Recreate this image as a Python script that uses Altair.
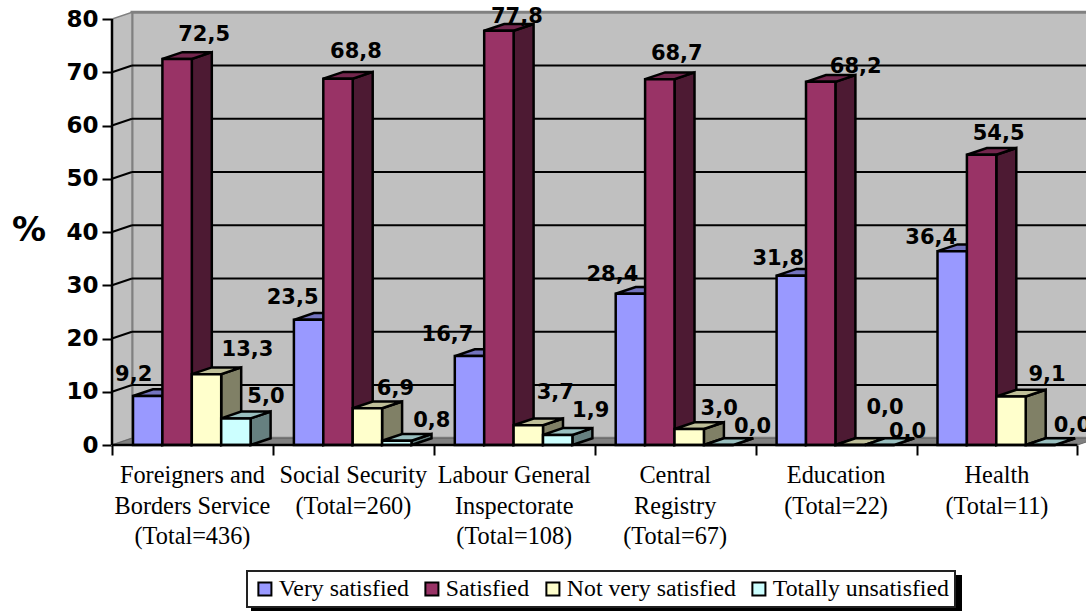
import altair as alt
import pandas as pd

# Survey results by public service, in percent
CATEGORIES = [
    "Foreigners and\nBorders Service\n(Total=436)",
    "Social Security\n(Total=260)",
    "Labour General\nInspectorate\n(Total=108)",
    "Central\nRegistry\n(Total=67)",
    "Education\n(Total=22)",
    "Health\n(Total=11)",
]
SERIES = ["Very satisfied", "Satisfied", "Not very satisfied", "Totally unsatisfied"]
VERY_SATISFIED = [9.2, 23.5, 16.7, 28.4, 31.8, 36.4]
SATISFIED = [72.5, 68.8, 77.8, 68.7, 68.2, 54.5]
NOT_VERY_SATISFIED = [13.3, 6.9, 3.7, 3.0, 0.0, 9.1]
TOTALLY_UNSATISFIED = [5.0, 0.8, 1.9, 0.0, 0.0, 0.0]
VALUES = [VERY_SATISFIED, SATISFIED, NOT_VERY_SATISFIED, TOTALLY_UNSATISFIED]

FRONT = ["#9999FF", "#993366", "#FFFFCC", "#CCFFFF"]
TOP = ["#7373BF", "#73264D", "#BFBF99", "#99BFBF"]
SIDE = ["#4D4D80", "#4D1A33", "#808066", "#668080"]

# Hand placement of the value labels relative to each bar's top centre
LABEL_DX = [
    [-14, -16, -22, -18, -13, -21],
    [27, 18, 18, 17, 35, 17],
    [41, 28, 27, 30, 35, 36],
    [30, 35, 33, 34, 28, 32],
]
LABEL_DY = [
    [-15, -16, -15, -13, -11, -7],
    [-18, -21, -8, -19, -9, -15],
    [-18, -13, -26, -14, -31, -16],
    [-15, -14, -18, -12, -7, -13],
]

# Layout of the oblique projection, in x-scale units and percentage points
CAT_W = 160.9
BAR_W = 29.4
BAR_START = 21
DEPTH_X = 20
DEPTH_Y = 1.27
PX_PER_UNIT = 5.325
N_CAT = len(CATEGORIES)
FLOOR_END = CAT_W * N_CAT
TICKS = list(range(0, 90, 10))
CAT_TICKS = [CAT_W * i for i in range(N_CAT + 1)]

X_SCALE = alt.Scale(domain=[0, 974], nice=False, zero=False)
Y_SCALE = alt.Scale(domain=[0, 445 / PX_PER_UNIT], nice=False, zero=False)
X_AXIS = alt.Axis(
    values=CAT_TICKS, domain=False, grid=False, title=None, labels=False,
    tickColor="black", tickWidth=2, tickSize=10,
)
Y_AXIS = alt.Axis(
    values=TICKS, domain=False, grid=False, title=None,
    tickColor="black", tickWidth=2, tickSize=10,
    labelFont="DejaVu Sans", labelFontWeight="bold", labelFontSize=23,
    labelColor="black", labelPadding=4, labelFlush=False, labelOverlap=False,
)

fronts, sides, tops, labels = [], [], [], []
for s, name in enumerate(SERIES):
    for c, v in enumerate(VALUES[s]):
        x0 = c * CAT_W + BAR_START + s * BAR_W
        x1 = x0 + BAR_W
        key = f"{s}-{c}"
        fronts.append(dict(series=name, x0=x0, x1=x1, y0=0, y1=v))
        for x, lo, hi in [(x1, 0, v), (x1 + DEPTH_X, DEPTH_Y, v + DEPTH_Y)]:
            sides.append(dict(key=key, shade=SIDE[s], x=x, lo=lo, hi=hi))
        for x, lo, hi in [
            (x0, v, v),
            (x0 + DEPTH_X, v, v + DEPTH_Y),
            (x1, v, v + DEPTH_Y),
            (x1 + DEPTH_X, v + DEPTH_Y, v + DEPTH_Y),
        ]:
            tops.append(dict(key=key, shade=TOP[s], x=x, lo=lo, hi=hi))
        labels.append(dict(
            text=f"{v:.1f}".replace(".", ","),
            x=(x0 + x1) / 2 + LABEL_DX[s][c],
            y=v - LABEL_DY[s][c] / PX_PER_UNIT,
        ))

X = lambda f: alt.X(f, type="quantitative", scale=X_SCALE, axis=X_AXIS)
Y = lambda f: alt.Y(f, type="quantitative", scale=Y_SCALE, axis=Y_AXIS)

# Walls and floor
back_wall = alt.Chart(pd.DataFrame([dict(
    x0=DEPTH_X, x1=FLOOR_END + DEPTH_X, y0=DEPTH_Y, y1=80 + DEPTH_Y)])).mark_rect(
    fill="#C0C0C0", stroke="#808080", strokeWidth=3
).encode(x=X("x0"), x2="x1", y=Y("y0"), y2="y1")

side_wall = alt.Chart(pd.DataFrame([
    dict(x=0, lo=0, hi=80), dict(x=DEPTH_X, lo=DEPTH_Y, hi=80 + DEPTH_Y)
])).mark_area(fill="#C0C0C0", stroke="#808080", strokeWidth=1.5).encode(
    x=X("x"), y=Y("lo"), y2="hi")

floor = alt.Chart(pd.DataFrame([
    dict(x=0, lo=0, hi=0),
    dict(x=DEPTH_X, lo=0, hi=DEPTH_Y),
    dict(x=FLOOR_END, lo=0, hi=DEPTH_Y),
    dict(x=FLOOR_END + DEPTH_X, lo=DEPTH_Y, hi=DEPTH_Y),
])).mark_area(fill="#808080", stroke="#666666", strokeWidth=1).encode(
    x=X("x"), y=Y("lo"), y2="hi")

back_grid = alt.Chart(pd.DataFrame([
    dict(x0=DEPTH_X, x1=FLOOR_END + DEPTH_X, y0=t + DEPTH_Y, y1=t + DEPTH_Y)
    for t in TICKS[1:-1]
])).mark_rule(color="black", strokeWidth=2).encode(
    x=X("x0"), x2="x1", y=Y("y0"), y2="y1")
side_grid = alt.Chart(pd.DataFrame([
    dict(x0=0, x1=DEPTH_X, y0=t, y1=t + DEPTH_Y) for t in TICKS[1:-1]
])).mark_rule(color="black", strokeWidth=2).encode(
    x=X("x0"), x2="x1", y=Y("y0"), y2="y1")

# The spines are rules so they stop at 80 and at the last category
y_spine = alt.Chart(pd.DataFrame([dict(x=0, y0=0, y1=80)])).mark_rule(
    color="black", strokeWidth=2.5).encode(x=X("x"), y=Y("y0"), y2="y1")
x_spine = alt.Chart(pd.DataFrame([dict(x0=0, x1=FLOOR_END, y=0)])).mark_rule(
    color="black", strokeWidth=2.5).encode(x=X("x0"), x2="x1", y=Y("y"))

# Bars: side faces, then top faces, then fronts so that nearer bars overlap
stroke = dict(stroke="black", strokeWidth=2.5, strokeJoin="miter")
side_faces = alt.Chart(pd.DataFrame(sides)).mark_area(**stroke).encode(
    x=X("x"), y=Y("lo"), y2="hi", detail="key:N",
    fill=alt.Fill("shade:N", scale=None))
top_faces = alt.Chart(pd.DataFrame(tops)).mark_area(**stroke).encode(
    x=X("x"), y=Y("lo"), y2="hi", detail="key:N",
    fill=alt.Fill("shade:N", scale=None))

legend = alt.Legend(
    orient="none", legendX=135, legendY=571, direction="horizontal", columns=4,
    title=None, symbolType="square", symbolSize=170, symbolStrokeColor="black",
    symbolStrokeWidth=2, symbolOpacity=1, labelFont="Liberation Serif", labelFontSize=23.8,
    labelColor="black", labelLimit=400, labelOffset=2, columnPadding=11, symbolOffset=0,
    strokeColor="#222222", fillColor="white", padding=6, rowPadding=0,
)
front_faces = alt.Chart(pd.DataFrame(fronts)).mark_rect(**stroke).encode(
    x=X("x0"), x2="x1", y=Y("y0"), y2="y1",
    color=alt.Color("series:N", scale=alt.Scale(domain=SERIES, range=FRONT),
                    sort=SERIES, legend=legend))

value_labels = alt.Chart(pd.DataFrame(labels)).mark_text(
    font="DejaVu Sans", fontWeight="bold", fontSize=21, color="black",
    align="center", baseline="alphabetic",
).encode(x=X("x"), y=Y("y"), text="text:N")

cat_labels = alt.Chart(pd.DataFrame([
    dict(x=(i + 0.5) * CAT_W, y=0, text=t) for i, t in enumerate(CATEGORIES)
])).mark_text(
    font="Liberation Serif", fontSize=24.3, color="black", align="center",
    baseline="top", lineBreak="\n", lineHeight=30.5, dy=19,
).encode(x=X("x"), y=Y("y"), text="text:N")

pct_title = alt.Chart(pd.DataFrame([dict(text="%")])).mark_text(
    font="DejaVu Sans", fontWeight="bold", fontSize=34, color="black",
    align="center", baseline="middle",
).encode(x=alt.value(-83), y=alt.value(231), text="text:N")

# Drop shadow behind the legend box
legend_shadow = alt.Chart(pd.DataFrame([dict(k=1)])).mark_rect(color="black").encode(
    x=alt.value(139), x2=alt.value(850), y=alt.value(575), y2=alt.value(611))

chart = alt.layer(
    back_wall, side_wall, floor, back_grid, side_grid,
    side_faces, top_faces, front_faces, y_spine, x_spine,
    value_labels, cat_labels, pct_title, legend_shadow,
).resolve_scale(color="independent", fill="independent").properties(
    width=974, height=445,
    autosize=alt.AutoSizeParams(type="none"),
    padding={"left": 112, "top": 0, "right": 0, "bottom": 169},
    background="white",
).configure_view(stroke=None).configure_legend(strokeWidth=2)

chart.save("out.html", embed_options={"renderer": "svg", "actions": False})
